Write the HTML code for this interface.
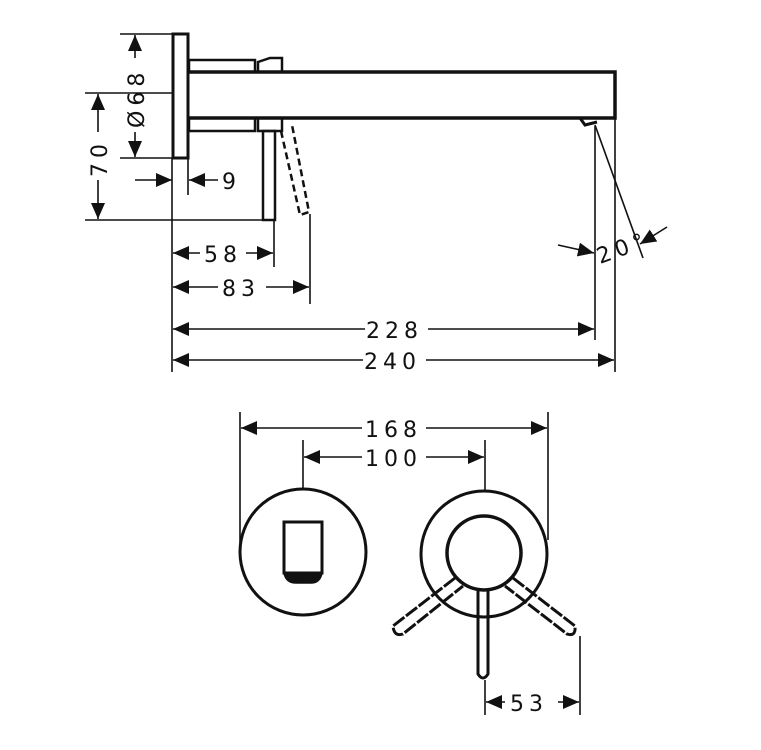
<!DOCTYPE html>
<html><head><meta charset="utf-8"><style>
html,body{margin:0;padding:0;background:#fff;width:761px;height:750px;overflow:hidden}
text{font-family:"DejaVu Sans","Liberation Sans",sans-serif;font-size:22px;fill:#111;letter-spacing:5px}
</style></head><body>
<svg width="761" height="750" viewBox="0 0 761 750" xmlns="http://www.w3.org/2000/svg">
<defs>
<marker id="a" markerWidth="16" markerHeight="14" refX="16" refY="7" orient="auto" markerUnits="userSpaceOnUse"><path d="M0,0 L16,7 L0,14z" fill="#111"/></marker>
<marker id="b" markerWidth="16" markerHeight="14" refX="0" refY="7" orient="auto" markerUnits="userSpaceOnUse"><path d="M16,0 L0,7 L16,14z" fill="#111"/></marker>
</defs>
<g stroke="#111" fill="none" stroke-width="1.6">
<rect x="173" y="34" width="15" height="124" stroke-width="3"/>
<path d="M188 72 H615 V118 H188" stroke-width="3.5"/>
<rect x="189" y="60" width="66" height="12" stroke-width="2.5"/>
<path d="M258 72 V62 L270 58 H282 V72" stroke-width="2.5"/>
<rect x="189" y="118" width="66" height="13" stroke-width="2.5"/>
<rect x="258" y="118" width="24" height="13" stroke-width="2.5"/>
<rect x="263" y="131" width="12" height="89" stroke-width="2.5"/>
<path d="M281 131 L300 215 L309 212 L292 125" stroke-dasharray="7,4" stroke-width="2.5"/>
<path d="M580 118 L585 125 L597 122" stroke-width="3"/>
<line x1="120" y1="34" x2="172" y2="34"/>
<line x1="120" y1="158" x2="172" y2="158"/>
<line x1="135" y1="35" x2="135" y2="58" marker-start="url(#b)"/>
<line x1="135" y1="132" x2="135" y2="157" marker-end="url(#a)"/>
<line x1="85" y1="93" x2="172" y2="93"/>
<line x1="85" y1="220" x2="262" y2="220"/>
<line x1="98" y1="94" x2="98" y2="132" marker-start="url(#b)"/>
<line x1="98" y1="180" x2="98" y2="219" marker-end="url(#a)"/>
<line x1="135" y1="180" x2="172" y2="180" marker-end="url(#a)"/>
<line x1="218" y1="180" x2="189" y2="180" marker-end="url(#a)"/>
<line x1="172" y1="158" x2="172" y2="372"/>
<line x1="188" y1="158" x2="188" y2="195"/>
<line x1="274" y1="221" x2="274" y2="267"/>
<line x1="310" y1="214" x2="310" y2="304"/>
<line x1="173" y1="253" x2="200" y2="253" marker-start="url(#b)"/>
<line x1="246" y1="253" x2="273" y2="253" marker-end="url(#a)"/>
<line x1="173" y1="287" x2="218" y2="287" marker-start="url(#b)"/>
<line x1="266" y1="287" x2="309" y2="287" marker-end="url(#a)"/>
<line x1="173" y1="329" x2="365" y2="329" marker-start="url(#b)"/>
<line x1="428" y1="329" x2="594" y2="329" marker-end="url(#a)"/>
<line x1="173" y1="360" x2="363" y2="360" marker-start="url(#b)"/>
<line x1="426" y1="360" x2="614" y2="360" marker-end="url(#a)"/>
<line x1="595" y1="126" x2="595" y2="340"/>
<line x1="615" y1="118" x2="615" y2="372"/>
<line x1="595" y1="125" x2="643" y2="258"/>
<line x1="558" y1="245" x2="594" y2="253" marker-end="url(#a)"/>
<line x1="667" y1="227" x2="640" y2="244" marker-end="url(#a)"/>
<circle cx="303" cy="552" r="63" stroke-width="3"/>
<path d="M284 522 H322 V573 H284 Z" stroke-width="3"/>
<path d="M284 573 Q286 583 296 583 H311 Q320 583 322 573 Z" fill="#111"/>
<circle cx="484" cy="554" r="63" stroke-width="3"/>
<circle cx="484" cy="553" r="37" stroke-width="3.5"/>
<path d="M478 590 V674 Q483 682 488 674 V590" stroke-width="3"/>
<path d="M455 578 L393 626 Q394 637 403 634 L463 586" stroke-width="3" stroke-dasharray="14,2"/>
<path d="M513 578 L575 626 Q576 637 567 634 L505 586" stroke-width="3" stroke-dasharray="14,2"/>
<line x1="240" y1="412" x2="240" y2="552"/>
<line x1="548" y1="412" x2="548" y2="540"/>
<line x1="241" y1="428" x2="362" y2="428" marker-start="url(#b)"/>
<line x1="426" y1="428" x2="547" y2="428" marker-end="url(#a)"/>
<line x1="303" y1="440" x2="303" y2="489"/>
<line x1="485" y1="440" x2="485" y2="491"/>
<line x1="304" y1="457" x2="362" y2="457" marker-start="url(#b)"/>
<line x1="426" y1="457" x2="484" y2="457" marker-end="url(#a)"/>
<line x1="485" y1="680" x2="485" y2="715"/>
<line x1="580" y1="636" x2="580" y2="715"/>
<line x1="486" y1="702" x2="505" y2="702" marker-start="url(#b)"/>
<line x1="558" y1="702" x2="579" y2="702" marker-end="url(#a)"/>
</g>
<text transform="translate(144,128) rotate(-90)">Ø68</text>
<text transform="translate(107,177) rotate(-90)">70</text>
<text x="222" y="189">9</text>
<text x="204" y="262">58</text>
<text x="222" y="296">83</text>
<text x="366" y="338">228</text>
<text x="364" y="369">240</text>
<text transform="translate(600,264) rotate(-20)">20°</text>
<text x="365" y="437">168</text>
<text x="365" y="466">100</text>
<text x="510" y="711">53</text>
</svg>
</body></html>
